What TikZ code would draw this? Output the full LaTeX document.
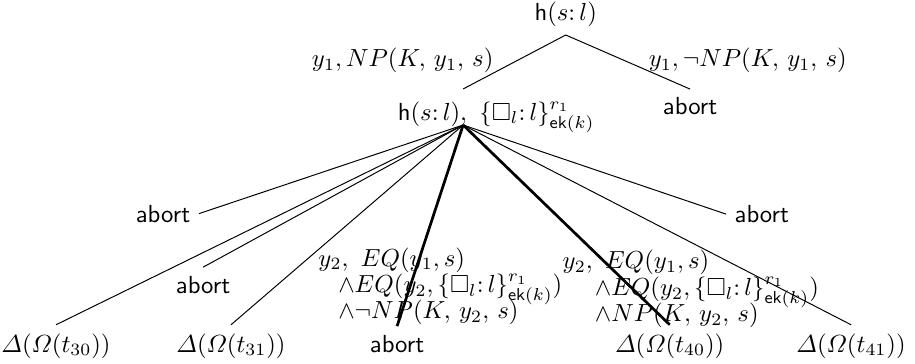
\documentclass[tikz,border=0pt]{standalone}
\usepackage{amsmath,amssymb}
\usepackage{xcolor}
\usetikzlibrary{calc}

\newcommand{\lab}{\mathpunct{:}}

\begin{document}
\begin{tikzpicture}[
    leaf/.style={anchor=base},
    taken/.style={line width=1.1pt},
    guard/.style={anchor=north west, inner sep=0pt, align=left,
      font={\lineskiplimit=-20pt\baselineskip=10.7pt}}]
  \useasboundingbox (0,0) rectangle (13.02,5.166);

  % Upper part
  \coordinate (mtop) at (6.59,3.90);
  \coordinate (hub) at (6.59,3.387);

  \node[leaf] (root) at (8.05,4.88) {$\mathsf{h}(s\lab l)$};
  \node[leaf] (mid) at (7.06,3.458) {$\mathsf{h}(s\lab l),\ \{\square_l\lab l\}^{r_1}_{\mathsf{ek}(k)}$};
  \node[leaf] (abortT) at (9.82,3.53) {\textsf{abort}};

  \draw (root.south) -- (mtop) (root.south) -- (abortT.north);

  \node[leaf] (g1) at (5.73,4.22) {$y_1, NP(K,\, y_1,\, s)$};
  \node[leaf] (g2) at (10.64,4.22) {$y_1, \neg NP(K,\, y_1,\, s)$};

  % Leaves
  \node[leaf] (a1) at (2.32,2.006) {\textsf{abort}};
  \node[leaf] (a2) at (2.89,0.996) {\textsf{abort}};
  \node[leaf] (a3) at (5.65,0.157) {\textsf{abort}};
  \node[leaf] (a4) at (10.84,2.0) {\textsf{abort}};
  \node[leaf] (t30) at (0.797,0.157) {$\varDelta(\varOmega(t_{30}))$};
  \node[leaf] (t31) at (3.287,0.157) {$\varDelta(\varOmega(t_{31}))$};
  \node[leaf] (t40) at (9.53,0.157) {$\varDelta(\varOmega(t_{40}))$};
  \node[leaf] (t41) at (12.11,0.157) {$\varDelta(\varOmega(t_{41}))$};

  \draw (hub) -- (a1.east);
  \draw (hub) -- (t30.north);
  \draw (hub) -- (a2.north);
  \draw (hub) -- (t31.north);
  \draw[taken] (hub) -- (a3.north);
  \draw[taken] (hub) -- (t40.north);
  \draw (hub) -- (t41.north);
  \draw (hub) -- (a4.west);

  % Guards of the two thick branches
  \node[guard] (e1) at (4.525,1.65) {$y_2,\ EQ(y_1, s)$\\
    \hspace*{8pt}$\wedge EQ(y_2, \{\square_l\lab l\}^{r_1}_{\mathsf{ek}(k)})$\\
    \hspace*{8pt}$\wedge\neg NP(K,\, y_2,\, s)$};
  \node[guard] (e2) at (8.0,1.61) {$y_2,\ EQ(y_1, s)$\\
    \hspace*{13pt}$\wedge EQ(y_2, \{\square_l\lab l\}^{r_1}_{\mathsf{ek}(k)})$\\
    \hspace*{13pt}$\wedge NP(K,\, y_2,\, s)$};
\end{tikzpicture}
\end{document}
